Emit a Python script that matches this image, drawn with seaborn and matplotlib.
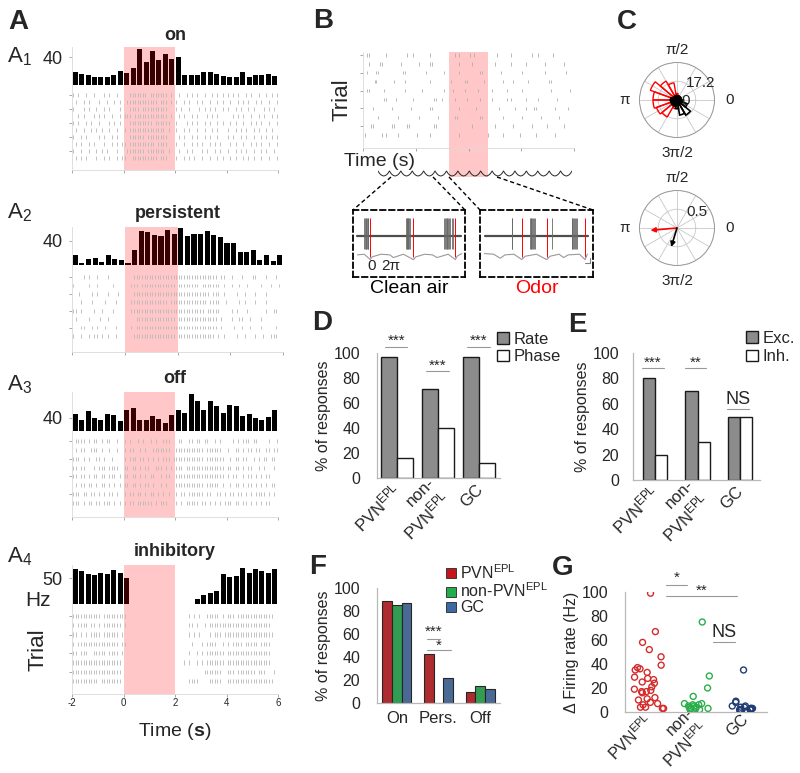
import numpy as np
import pandas as pd
import matplotlib
matplotlib.use("Agg")
import matplotlib.pyplot as plt
import seaborn as sns
from matplotlib.patches import Patch
from matplotlib.lines import Line2D

# ------------------------------------------------------------------ data
ODOR = (0.0, 2.0)
A_BIN_START, A_BIN_WIDTH = -2.0, 0.25
A_TIME_TICKS = [-2, 0, 2, 4, 6]

A1_RATE = [19, 16, 15, 11, 12, 12, 14, 20, 18, 24, 52, 34, 49, 36, 45, 37,
           40, 15, 14, 14, 19, 19, 16, 13, 12, 12, 19, 12, 15, 15, 16, 13]
A2_RATE = [17, 3, 10, 12, 5, 16, 10, 9, 3, 25, 57, 54, 50, 48, 58, 51,
           62, 48, 52, 52, 57, 50, 46, 36, 36, 21, 21, 25, 8, 16, 7, 16]
A3_RATE = [52, 34, 59, 39, 34, 52, 49, 30, 64, 69, 34, 34, 44, 37, 24, 47,
           64, 54, 112, 89, 62, 91, 76, 55, 79, 76, 45, 52, 39, 34, 42, 64]
A4_RATE = [69, 65, 58, 56, 61, 59, 66, 61, 51, 0, 0, 0, 0, 0, 0, 0,
           0, 0, 0.5, 10, 17, 21, 25, 58, 52, 55, 71, 61, 68, 64, 60, 68]

# raster rows: 0.1-s bins from -2 s, segments of 2 s separated by '/'
A1_RASTER = [
    "| |  |  |   | |  |  /  ||||||| ||||||| |/ |  | | |  |  | | | /| | |  | |  |  | | |",
    " |  | |   |  |  | | / |||||||||||| ||| |/|  | |  | |  |  | |/ |  | | |  | |  |  |",
    "|   | |  |  | |   | /  |||| |||||||||| /| |  |   | | | |  |/|  | |  | |   | | | ",
    "  | |   | | |  |  | /||| ||||||||||||| |/ | |  | |   | | | /  | | |  |  | |  | ||",
    "| |  | |  |   | | | /  ||||||||| ||||||/|   | | |  | |  | |/ | |  |  | | |  |  |",
    " |  |  | | |  |  |  /| |||||||||||||| |/|  | |  |  |  | |  /|  | | |  | |  | |  ",
    "|  | |    | |  | |  /  |||||| |||||||| / | |  | |  | |  |  /| |  | |  |  | | | |",
    " | |  | |   |  | | |/| |||||||||| |||| /|  |  | | |  | | | / | |  |  | | |  |  |",
    "|  |  |  | | |   |  / ||||||| ||||||| |/ |  | |   | |  | | /|  | | |  |  | |  | ",
    " | | |   |  | |  | |/|  |||||||||| ||| /|  | | |  |  |  | |/ | |  | | |  |  |  |",
]
A2_RASTER = [
    "    | |  |   |     /   |||||||||||||||||/||||||||||||||| || /|   |   ||   |   | ",
    "|     |  |     |   /  ||| |||||||||||||/|||||||| ||||||| |/|  |  |    |   |  |",
    "  |    | |   |   | /   |||||||||||||||||/|||||||||||| ||| | /  |  |   |   |    ",
    "   |   |    |   |  /  |||||||||||||| |||/||||||||||| ||||  |/   | |   |   |   ",
    "|| |    |  |   |   /  ||||||||||||||||||/|||||||||| |||||  /| |   |      |  || ",
    " |    |   |  |     /    |||||||||||||||/||||||||||||||| |  /|  ||  |   |       ",
    "   ||  | |  |   |  /  | ||||||||||||||||/||||||||||||||| | / |  |  |   |     | ",
    "|  |  | || | |  |  /   ||||||||||||||||/|||||||||||||| | |/  |  |   |  |  |||",
]
A3_RASTER = [
    " |||| | || | ||  | /| |  | |  | |  ||| / ||  || || ||  | | /  | | ||| ||    |  |",
    " | ||  ||| |  |  | /| ||  | |  ||||||| /||||||||||| |||||| /|  || | || ||  || ||",
    "||| | |  || |  |  /| ||| || | | | ||| |/||||||||||| |||||||/ | || ||  | | || ||",
    "|| ||   | ||| |||| /|| || | ||  ||| | |/||| ||||||||||||||| /|| || | ||  | |   |",
    "|| || | || || ||| | /|| || | | ||  | ||/||||||||||||||||||| /| ||  | || | | || ",
    " | || || | || | | | /|| || | || |  | | /||||||||||| ||||| | / | || | || | | | ||",
    "||| || || | | || | /| || || | || | | | /| || |||||| ||  || |/ || || | | |||| | |",
    "||| | || || ||| | | /| || |||||| | ||| /| | ||||| || | | | | /|| || || | | | ||",
]
A4_RASTER = [
    "||||||||||| ||||||||/|                   /     | | |  ||||| |/||| |||||||||||||| ",
    "| |||| || | ||||||| /|                   /     || |  | |||||||/||||||||||||||||| ",
    "|| | | |||| |||||| |/                    /     | | |   | ||| |/|||||||||||||||||| ",
    "| |||||||||||||||| |/|                   /      |   | ||||  |/| |||| ||||| |||| ",
    "|| |||  ||||| |||| |/                    /     |  | | |||||||/||||||||||||||||| ",
    "||||||||||||||||||| /                    /   | |  | | |||||||/||||||||||||||||| ",
    "||||||||||||||||||| /                    /           |||||||/||| ||||||| |||   |",
    "|||||||||| |||||||| /                    /     ||||    |||||/|||||||||||||||||| ",
]

B_XLIM = (-4.5, 6.5)
B_RASTER = [
    [-4.3, -4.2, -3.3, -2.2, -1.9, -1.0, 0.3, 0.5, 1.1, 1.3, 2.5, 3.2, 4.3, 4.6, 5.4],
    [-4.2, -3.6, -3.5, -2.5, -1.6, -1.0, -0.9, 0.5, 1.2, 2.4, 3.2, 4.0, 5.0, 6.0],
    [-4.3, -3.8, -3.7, -2.4, -2.3, -1.2, -0.3, 0.5, 1.6, 1.7, 2.7, 3.8, 5.0, 6.1],
    [-3.9, -3.8, -2.9, -2.3, -1.0, 0.1, 0.8, 0.9, 1.8, 2.8, 3.3, 4.1, 5.2, 5.3],
    [-4.3, -4.2, -3.4, -2.3, -1.4, -0.3, 0.2, 0.8, 1.5, 2.2, 3.0, 3.8, 5.3, 6.3],
    [-3.4, -3.3, -2.8, -1.9, -0.8, -0.7, -0.4, 0.3, 0.9, 1.6, 2.2, 3.0, 3.2, 4.0, 4.6, 5.6],
    [-4.0, -3.0, -2.0, -1.0, -0.9, 0.5, 1.4, 2.6, 3.4, 4.0, 4.4, 4.5, 5.5, 6.2],
    [-3.7, -2.7, -1.6, -0.6, 0.3, 0.4, 1.6, 1.7, 2.8, 3.8, 4.8, 5.7],
    [-4.1, -4.0, -3.0, -2.9, -2.2, -2.1, -0.8, -0.7, 1.2, 2.4, 3.3, 4.3, 5.1, 6.0],
    [-4.4, -3.5, -3.3, -2.7, -1.7, -1.0, 0.5, 2.0, 2.8, 3.7, 4.5, 5.5],
]
SNIFF_CYCLE = [1.0, 0.55, 0.25, 0.08, 0.0, 0.08, 0.25, 0.55]
N_SNIFFS = 17

CLEAN_SPIKES = [0.10, 0.11, 0.115, 0.12, 0.125, 0.13, 0.135,
                0.47, 0.48, 0.485, 0.49, 0.495, 0.50, 0.51,
                0.81, 0.82, 0.83, 0.835, 0.84, 0.85, 0.86, 0.87, 0.88, 0.89]
CLEAN_CYCLES = [0.155, 0.54, 0.914]
CLEAN_SNIFF_X = [0.04, 0.10, 0.155, 0.17, 0.25, 0.33, 0.36, 0.45, 0.54, 0.56,
                 0.64, 0.71, 0.75, 0.85, 0.914, 0.93, 0.97]
CLEAN_SNIFF_Y = [0.33, 0.34, 0.26, 0.30, 0.34, 0.33, 0.29, 0.34, 0.26, 0.30,
                 0.34, 0.33, 0.29, 0.34, 0.26, 0.31, 0.35]
ODOR_SPIKES = [0.28, 0.285, 0.44, 0.45, 0.455, 0.46, 0.47, 0.48, 0.49, 0.64,
               0.81, 0.815, 0.82, 0.83, 0.84, 0.85, 0.86]
ODOR_CYCLES = [0.37, 0.59, 0.93]
ODOR_SNIFF_X = [0.04, 0.12, 0.18, 0.22, 0.30, 0.37, 0.40, 0.50, 0.59, 0.62,
                0.70, 0.74, 0.78, 0.88, 0.93, 0.95]
ODOR_SNIFF_Y = [0.35, 0.34, 0.28, 0.33, 0.34, 0.26, 0.31, 0.34, 0.26, 0.31,
                0.34, 0.29, 0.33, 0.34, 0.26, 0.34]

ROSE_ANGLES = [10, 30, 50, 70, 90, 110, 130, 150, 170, 190, 210, 230, 250, 270, 290, 310, 330, 350]
ROSE_ODOR = [0, 0, 0, 0, 3, 8, 10, 13, 11, 11, 10, 9, 4, 2, 0, 0, 0, 0]
ROSE_AIR = [2, 2, 2, 2, 2, 2, 2, 2, 3, 3, 3, 3, 3, 4, 7, 8, 5, 3]
ROSE_MAX = 17.2
VEC_ANGLE = [185, 253]
VEC_LEN = [0.71, 0.53]
VEC_COLOR = ["red", "black"]

D_GROUPS = [r"PVN$^{\mathrm{EPL}}$", "non-\n" + r"PVN$^{\mathrm{EPL}}$", "GC"]
D_RATE = [97, 71, 97]
D_PHASE = [16, 40, 12]
D_SIG = ["***", "***", "***"]

E_EXC = [80, 70, 50]
E_INH = [20, 30, 50]
E_SIG = ["***", "**", "NS"]

F_CATS = ["On", "Pers.", "Off"]
F_PVN = [89, 43, 10]
F_NON = [85, 0, 15]
F_GC = [87, 22, 12]
F_HUES = [r"PVN$^{\mathrm{EPL}}$", r"non-PVN$^{\mathrm{EPL}}$", "GC"]

G_PVN = [99, 67, 58, 52, 46, 39, 37, 36, 35, 33, 29, 28, 27, 25, 24, 21, 19, 18,
         17, 17, 16, 12, 11, 10, 8, 7, 6, 4, 4, 3, 3]
G_NON = [75, 30, 20, 13, 7, 7, 6, 6, 5, 5, 4, 4, 3, 3, 3, 2, 2, 2]
G_GC = [35, 9, 8, 5, 5, 4, 4, 3, 3, 3, 2, 2, 2, 1, 1, 2]

# ------------------------------------------------------------------ style
sns.set_style("white")
plt.rcParams["font.family"] = ["Liberation Sans", "DejaVu Sans"]
plt.rcParams["mathtext.fontset"] = "custom"
plt.rcParams["mathtext.rm"] = "Liberation Sans"
plt.rcParams["mathtext.it"] = "Liberation Sans:italic"
plt.rcParams["mathtext.bf"] = "Liberation Sans:bold"

W, H = 800, 773
fig = plt.figure(figsize=(W / 100, H / 100), dpi=100)


def px_axes(x0, y0, x1, y1, **kw):
    return fig.add_axes([x0 / W, 1 - y1 / H, (x1 - x0) / W, (y1 - y0) / H], **kw)


def ftext(x, y, s, **kw):
    kw.setdefault("ha", "center")
    kw.setdefault("va", "center")
    fig.text(x / W, 1 - y / H, s, **kw)


def fline(x0, y0, x1, y1, **kw):
    fig.add_artist(Line2D([x0 / W, x1 / W], [1 - y0 / H, 1 - y1 / H],
                          transform=fig.transFigure, **kw))


def parse_row(s):
    full = "".join(seg.ljust(20)[:20] for seg in s.split("/"))
    return [A_BIN_START + 0.1 * (i + 0.5) for i, c in enumerate(full) if c == "|"]


PINK = dict(color="red", alpha=0.22, lw=0)

# ------------------------------------------------------------------ panel A
A_LAYOUT = [
    # x0, x1, title_y, hist_top, hist_bot, raster_bot, row_first, row_last, ytop, tick, sub_y
    (72, 278, 35, 47, 85, 170, 95, 158, 55, 40, 57),
    (72, 283, 213, 227, 265, 352, 277, 336, 63, 40, 213),
    (72, 278, 378, 392, 431, 517, 441, 503, 117, 40, 385),
    (72, 278, 552, 565, 604, 694, 616, 681, 76, 50, 557),
]
A_DATA = [(A1_RATE, A1_RASTER, "on"), (A2_RATE, A2_RASTER, "persistent"),
          (A3_RATE, A3_RASTER, "off"), (A4_RATE, A4_RASTER, "inhibitory")]

for k, ((rates, raster, title), lay) in enumerate(zip(A_DATA, A_LAYOUT)):
    x0, x1, ty, ht, hb, rb, rf, rl, ytop, tick, suby = lay
    # histogram
    axh = px_axes(x0, ht, x1, hb)
    axh.set_facecolor("none")
    centers = A_BIN_START + A_BIN_WIDTH * (np.arange(len(rates)) + 0.5)
    dfh = pd.DataFrame({"t": centers, "rate": rates})
    sns.histplot(data=dfh, x="t", weights="rate", binwidth=A_BIN_WIDTH,
                 binrange=(A_BIN_START, A_BIN_START + A_BIN_WIDTH * len(rates)),
                 shrink=0.78, color="black", alpha=1, linewidth=0, ax=axh)
    axh.axvspan(*ODOR, zorder=5, **PINK)
    axh.set_xlim(-2, 6)
    axh.set_ylim(0, ytop)
    axh.set_xticks([])
    axh.set_yticks([tick])
    axh.set_yticklabels([str(tick)], fontsize=13)
    axh.tick_params(axis="y", length=2, color="0.7", pad=5, left=True)
    axh.set_xlabel("")
    axh.set_ylabel("")
    for sp in ["top", "right", "bottom"]:
        axh.spines[sp].set_visible(False)
    axh.spines["left"].set_color("0.85")
    axh.spines["left"].set_linewidth(0.6)

    # raster
    axr = px_axes(x0, hb, x1, rb)
    n = len(raster)
    spacing = (rl - rf) / (n - 1)
    y_top = 1 - (rf - hb) / spacing
    y_bot = n + (rb - rl) / spacing
    axr.eventplot([parse_row(r) for r in raster], lineoffsets=np.arange(1, n + 1),
                  linelengths=0.45, colors="0.72", linewidths=0.6)
    axr.axvspan(*ODOR, zorder=0, **PINK)
    axr.set_xlim(-2, 6)
    axr.set_ylim(y_bot, y_top)
    axr.set_xticks(A_TIME_TICKS)
    axr.set_yticks(np.arange(1, n + 1, 2))
    axr.set_yticklabels([])
    axr.tick_params(length=2, color="0.6", width=0.6, bottom=True, left=True)
    if k == 3:
        axr.set_xticklabels([str(t) for t in A_TIME_TICKS], fontsize=7)
        axr.tick_params(axis="x", pad=1)
    else:
        axr.set_xticklabels([])
    for sp in ["top", "right"]:
        axr.spines[sp].set_visible(False)
    for sp in ["left", "bottom"]:
        axr.spines[sp].set_color("0.85")
        axr.spines[sp].set_linewidth(0.6)

    ftext((x0 + x1) / 2, ty, title, fontsize=13, fontweight="bold")
    ftext(7, suby, "A$_{%d}$" % (k + 1), fontsize=16, ha="left")

ftext(38, 601, "Hz", fontsize=15)
ftext(38, 650, "Trial", fontsize=16, rotation=90)
ftext(175, 732, r"Time ($\mathbf{s}$)", fontsize=14)

# ------------------------------------------------------------------ panel B
axb = px_axes(363, 52, 574, 148)
nb = len(B_RASTER)
sp_b = (135 - 55) / (nb - 1)
axb.eventplot(B_RASTER, lineoffsets=np.arange(1, nb + 1), linelengths=0.38,
              colors="0.68", linewidths=0.6)
axb.axvspan(*ODOR, ymin=-0.30, ymax=1.0, clip_on=False, zorder=0, **PINK)
axb.set_xlim(*B_XLIM)
axb.set_ylim(nb + (148 - 135) / sp_b, 1 - (55 - 52) / sp_b)
axb.set_xticks(np.linspace(B_XLIM[0], B_XLIM[1], 5))
axb.set_xticklabels([])
axb.set_yticks(np.arange(1, nb + 1, 2))
axb.set_yticklabels([])
axb.tick_params(length=2, color="0.6", width=0.6, bottom=True, left=True)
for sp in ["top", "right"]:
    axb.spines[sp].set_visible(False)
for sp in ["left", "bottom"]:
    axb.spines[sp].set_color("0.85")
    axb.spines[sp].set_linewidth(0.6)
ftext(342, 100, "Trial", fontsize=16, rotation=90)
ftext(379, 162, "Time (s)", fontsize=14)

axw = px_axes(378, 170, 572, 177)
axw.set_facecolor("none")
wave = np.array(SNIFF_CYCLE * N_SNIFFS + [SNIFF_CYCLE[0]])
axw.plot(np.arange(len(wave)), wave, color="0.15", lw=0.7)
axw.set_xlim(0, len(wave) - 1)
axw.set_ylim(-0.2, 1.2)
axw.axis("off")

# insets
for (bx0, bx1, spikes, cycles, sx, sy, lab, col) in [
    (353, 465, CLEAN_SPIKES, CLEAN_CYCLES, CLEAN_SNIFF_X, CLEAN_SNIFF_Y, "Clean air", "black"),
    (480, 593, ODOR_SPIKES, ODOR_CYCLES, ODOR_SNIFF_X, ODOR_SNIFF_Y, "Odor", "red"),
]:
    axi = px_axes(bx0, 210, bx1, 277)
    axi.set_xlim(0, 1)
    axi.set_ylim(0, 1)
    axi.set_xticks([])
    axi.set_yticks([])
    for s in axi.spines.values():
        s.set_linestyle((0, (3, 2)))
        s.set_linewidth(1.3)
        s.set_color("black")
    axi.plot([0.04, 0.96], [0.61, 0.61], color="0.3", lw=1.6)
    axi.vlines(spikes, 0.42, 0.88, color="0.4", lw=0.6)
    axi.vlines(cycles, 0.30, 0.88, color="red", lw=0.7)
    axi.plot(sx, sy, color="0.6", lw=0.8)
    ftext((bx0 + bx1) / 2, 288, lab, fontsize=14, color=col)
    if col == "red":
        axi.plot([0.93, 0.97, 0.97], [0.21, 0.21, 0.29], color="0.5", lw=0.8)
    else:
        axi.text(0.17, 0.16, "0", fontsize=11, ha="center", va="center")
        axi.text(0.34, 0.16, "2π", fontsize=11, ha="center", va="center")

dash = dict(color="black", lw=1.0, linestyle=(0, (3, 2)))
fline(391, 177, 353, 210, **dash)
fline(433, 177, 465, 210, **dash)
fline(449, 177, 480, 210, **dash)
fline(497, 177, 593, 210, **dash)

# ------------------------------------------------------------------ panel C
def polar_frame(ax, rmax, rt, cy):
    ax.set_ylim(0, rmax)
    ax.set_yticks(rt)
    ax.set_yticklabels([])
    ang = np.arange(0, 360, 30)
    ax.set_xticks(np.deg2rad(ang))
    ax.set_xticklabels([])
    ax.grid(color="0.78", lw=0.6)
    ax.spines["polar"].set_color("0.6")
    ax.spines["polar"].set_linewidth(0.7)
    ftext(677, cy - 50, "π/2", fontsize=11)
    ftext(625, cy, "π", fontsize=11)
    ftext(730, cy, "0", fontsize=11)
    ftext(677, cy + 53, "3π/2", fontsize=11)


axc1 = px_axes(639.5, 62.5, 714.5, 137.5, projection="polar")
polar_frame(axc1, ROSE_MAX, [ROSE_MAX / 2, ROSE_MAX], 100)
axc1.bar(np.deg2rad(ROSE_ANGLES), ROSE_ODOR, width=np.deg2rad(20), fill=False,
         edgecolor="red", lw=1.0)
axc1.bar(np.deg2rad(ROSE_ANGLES), ROSE_AIR, width=np.deg2rad(20), fill=False,
         edgecolor="black", lw=1.2)
axc1.text(np.deg2rad(36), 13.3, "17.2", fontsize=11, ha="center", va="center")
axc1.text(np.deg2rad(-5), 4.2, "0", fontsize=11, ha="center", va="center")

axc2 = px_axes(639.5, 190.5, 714.5, 265.5, projection="polar")
polar_frame(axc2, 1.0, [0.5, 1.0], 228)
for a, r, c in zip(VEC_ANGLE, VEC_LEN, VEC_COLOR):
    axc2.annotate("", xy=(np.deg2rad(a), r), xytext=(0, 0),
                  arrowprops=dict(arrowstyle="-|>", color=c, lw=1.2,
                                  mutation_scale=7, shrinkA=0, shrinkB=0))
axc2.text(np.deg2rad(39), 0.68, "0.5", fontsize=11, ha="center", va="center")


# ------------------------------------------------------------------ bar helpers
def style_bar_axes(ax, ylabel, pad=11):
    ax.set_ylim(0, 100)
    ax.set_yticks(range(0, 101, 20))
    ax.tick_params(axis="y", length=0, pad=pad, labelsize=11.5)
    ax.tick_params(axis="x", length=0)
    ax.set_ylabel(ylabel, fontsize=11.5, labelpad=2)
    ax.set_xlabel("")
    for sp in ["top", "right"]:
        ax.spines[sp].set_visible(False)
    for sp in ["left", "bottom"]:
        ax.spines[sp].set_color("0.72")
        ax.spines[sp].set_linewidth(0.9)


def sig(ax, x0, x1, y_line, y_text, txt, fs=11):
    ax.plot([x0, x1], [y_line, y_line], color="0.6", lw=0.8, clip_on=False)
    ax.text((x0 + x1) / 2, y_text, txt, fontsize=fs, ha="center", va="center")


def rot_labels(ax, labels, pad=4, fs=12):
    ax.set_xticks(range(len(labels)))
    ax.set_xticklabels(labels, rotation=45, ha="right", va="center_baseline",
                       rotation_mode="anchor", fontsize=fs)
    for t in ax.get_xticklabels():
        t.set_multialignment("right")
    ax.tick_params(axis="x", pad=pad)


GRAY = "#8c8c8c"

# ------------------------------------------------------------------ panel D
axd = px_axes(377, 353, 500, 478)
dfD = pd.DataFrame({"group": D_GROUPS * 2, "kind": ["Rate"] * 3 + ["Phase"] * 3,
                    "value": D_RATE + D_PHASE})
sns.barplot(data=dfD, x="group", y="value", hue="kind", order=D_GROUPS,
            hue_order=["Rate", "Phase"], palette={"Rate": GRAY, "Phase": "white"},
            edgecolor="0.1", linewidth=1, width=0.78, errorbar=None, legend=False, ax=axd)
axd.set_xlim(-0.49, 2.5)
style_bar_axes(axd, "% of responses", pad=12)
rot_labels(axd, D_GROUPS, pad=6)
D_SIG_Y = [(105, 110), (86, 90), (105, 110)]
for i, (s, (yl, yt)) in enumerate(zip(D_SIG, D_SIG_Y)):
    sig(axd, i - 0.3, i + 0.25, yl, yt, s)
axd.legend(handles=[Patch(facecolor=GRAY, edgecolor="0.1"), Patch(facecolor="white", edgecolor="0.1")],
           labels=["Rate", "Phase"], loc="upper left", bbox_to_anchor=(497 / W, 1 - 332 / H),
           bbox_transform=fig.transFigure, frameon=False, fontsize=12, handlelength=0.7,
           handleheight=0.7, handletextpad=0.3, labelspacing=0.15, borderpad=0, borderaxespad=0)

# ------------------------------------------------------------------ panel E
axe = px_axes(633, 353, 760, 480)
dfE = pd.DataFrame({"group": D_GROUPS * 2, "kind": ["Exc."] * 3 + ["Inh."] * 3,
                    "value": E_EXC + E_INH})
sns.barplot(data=dfE, x="group", y="value", hue="kind", order=D_GROUPS,
            hue_order=["Exc.", "Inh."], palette={"Exc.": GRAY, "Inh.": "white"},
            edgecolor="0.1", linewidth=1, width=0.58, errorbar=None, legend=False, ax=axe)
axe.set_xlim(-0.52, 2.47)
style_bar_axes(axe, "% of responses", pad=10)
rot_labels(axe, D_GROUPS, pad=6)
E_SIG_Y = [(88, 92), (88, 92), (56, 63)]
for i, (s, (yl, yt)) in enumerate(zip(E_SIG, E_SIG_Y)):
    sig(axe, i - 0.3, i + 0.2, yl, yt, s, fs=13 if s == "NS" else 11)
axe.legend(handles=[Patch(facecolor=GRAY, edgecolor="0.1"), Patch(facecolor="white", edgecolor="0.1")],
           labels=["Exc.", "Inh."], loc="upper left", bbox_to_anchor=(746 / W, 1 - 331 / H),
           bbox_transform=fig.transFigure, frameon=False, fontsize=12, handlelength=0.7,
           handleheight=0.7, handletextpad=0.3, labelspacing=0.2, borderpad=0, borderaxespad=0)

# ------------------------------------------------------------------ panel F
F_COLORS = ["#c4161c", "#1fae4b", "#3d68a3"]
axf = px_axes(377, 588, 500, 703)
dfF = pd.DataFrame({"cat": F_CATS * 3,
                    "cell": [F_HUES[0]] * 3 + [F_HUES[1]] * 3 + [F_HUES[2]] * 3,
                    "value": F_PVN + F_NON + F_GC})
sns.barplot(data=dfF, x="cat", y="value", hue="cell", order=F_CATS, hue_order=F_HUES,
            palette=dict(zip(F_HUES, F_COLORS)), edgecolor="0.15", linewidth=0.8,
            width=0.7, errorbar=None, legend=False, ax=axf)
axf.set_xlim(-0.48, 2.48)
style_bar_axes(axf, "% of responses", pad=12)
axf.tick_params(axis="x", labelsize=12, pad=6)
sig(axf, 0.72, 1.04, 56, 62, "***")
sig(axf, 0.72, 1.3, 46, 50, "*")
axf.legend(handles=[Patch(facecolor=c, edgecolor="0.15", lw=0.6) for c in F_COLORS],
           labels=F_HUES, loc="upper left", bbox_to_anchor=(446 / W, 1 - 563 / H),
           bbox_transform=fig.transFigure, frameon=False, fontsize=11.5, handlelength=0.6,
           handleheight=0.6, handletextpad=0.3, labelspacing=0.0, borderpad=0, borderaxespad=0)

# ------------------------------------------------------------------ panel G
G_KEYS = ["PVN", "non", "GC"]
G_COLORS = ["#d42a2a", "#2aae4a", "#203c74"]
dfG = pd.DataFrame({"group": ["PVN"] * len(G_PVN) + ["non"] * len(G_NON) + ["GC"] * len(G_GC),
                    "value": G_PVN + G_NON + G_GC})
axg = px_axes(625, 592, 767, 712)
np.random.seed(3)
sns.stripplot(data=dfG, x="group", y="value", hue="group", order=G_KEYS, hue_order=G_KEYS,
              palette=dict(zip(G_KEYS, G_COLORS)), jitter=0.32, size=4.3, linewidth=1,
              legend=False, ax=axg)
for coll in axg.collections:
    fc = coll.get_facecolors()
    coll.set_edgecolors(fc)
    coll.set_facecolors("none")
    coll.set_linewidth(1.0)
axg.set_xlim(-0.5, 2.46)
style_bar_axes(axg, "Δ Firing rate (Hz)", pad=12)
rot_labels(axg, D_GROUPS, pad=3, fs=11.5)
sig(axg, 0.35, 0.79, 106, 112, "*")
sig(axg, 0.35, 1.83, 97, 101, "**")
sig(axg, 1.33, 1.79, 58, 66, "NS", fs=13)

# ------------------------------------------------------------------ panel letters
for lab, (x, y) in {"A": (18, 22), "B": (323, 21), "C": (627, 22), "D": (322, 323),
                    "E": (577, 325), "F": (318, 567), "G": (563, 568)}.items():
    ftext(x, y, lab, fontsize=20, fontweight="bold")

fig.savefig("out.png", dpi=100)
